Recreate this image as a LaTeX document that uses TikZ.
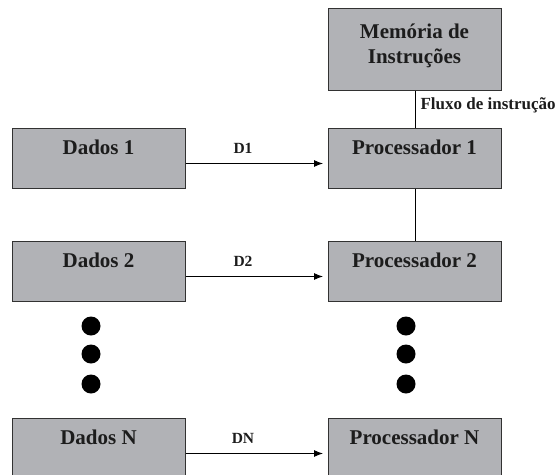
\documentclass[tikz,border=0pt]{standalone}
\usepackage{fontspec}
\setmainfont{Liberation Serif}
\usetikzlibrary{arrows.meta}
\definecolor{boxfill}{RGB}{177,178,182}
\definecolor{boxline}{RGB}{50,50,50}
\definecolor{ink}{RGB}{28,28,28}
\begin{document}
\begin{tikzpicture}[x=1pt,y=-1pt,
  unitbox/.style={draw=boxline, line width=1.3pt, fill=boxfill,
    minimum width=173pt, minimum height=60pt, inner sep=0pt, anchor=north west},
  boxtext/.style={font=\fontsize{21}{25}\selectfont\bfseries, text=ink,
    anchor=base, inner sep=0pt},
  flow/.style={draw=black, line width=0.9pt, -{Latex[length=9pt,width=7pt]},
    shorten >=5pt},
  link/.style={draw=black, line width=0.9pt},
  datalabel/.style={font=\fontsize{15.5}{18}\selectfont\bfseries, text=ink,
    anchor=base, inner sep=0pt},
  flowlabel/.style={font=\fontsize{17}{20}\selectfont\bfseries, text=ink,
    anchor=west, inner sep=0pt},
  dot/.style={circle, fill=black, minimum size=19pt, inner sep=0pt}]

\useasboundingbox (0,0) rectangle (556,474);
\clip (0,0) rectangle (556,474);

% instruction memory
\node[unitbox, minimum height=82pt] (mem) at (328,8) {};
\node[boxtext] (memt1) at (414.5,38) {Memória de};
\node[boxtext] (memt2) at (414.5,63) {Instruções};

% processors
\node[unitbox] (p1) at (328,127.5) {};
\node[boxtext] (p1t) at (414.5,154) {Processador 1};
\node[unitbox] (p2) at (328,240.5) {};
\node[boxtext] (p2t) at (414.5,267) {Processador 2};
\node[unitbox] (pN) at (328,417.5) {};
\node[boxtext] (pNt) at (414.5,444) {Processador N};

% data streams
\node[unitbox] (d1) at (12,127.5) {};
\node[boxtext] (d1t) at (98.5,154) {Dados 1};
\node[unitbox] (d2) at (12,240.5) {};
\node[boxtext] (d2t) at (98.5,267) {Dados 2};
\node[unitbox] (dN) at (12,417.5) {};
\node[boxtext] (dNt) at (98.5,444) {Dados N};

% instruction stream
\draw[link] (mem.south) -- (p1.north)
  node[flowlabel, pos=0.4, xshift=5pt] (fl) {Fluxo de instrução};
\draw[link] (p1.south) -- (p2.north);

% data arrows
\draw[flow] ([yshift=-36pt]d1.north east) -- ([yshift=-36pt]p1.north west)
  node[datalabel, pos=0.4, yshift=10pt] (l1) {D1};
\draw[flow] ([yshift=-36pt]d2.north east) -- ([yshift=-36pt]p2.north west)
  node[datalabel, pos=0.4, yshift=10pt] (l2) {D2};
\draw[flow] ([yshift=-36pt]dN.north east) -- ([yshift=-36pt]pN.north west)
  node[datalabel, pos=0.4, yshift=10pt] (lN) {DN};

% ellipsis dots
\node[dot] (dl1) at (91,326) {};
\node[dot] (dl2) at (91,354) {};
\node[dot] (dl3) at (91,384) {};
\node[dot] (dr1) at (406,326) {};
\node[dot] (dr2) at (406,354) {};
\node[dot] (dr3) at (406,384) {};
\end{tikzpicture}
\end{document}
